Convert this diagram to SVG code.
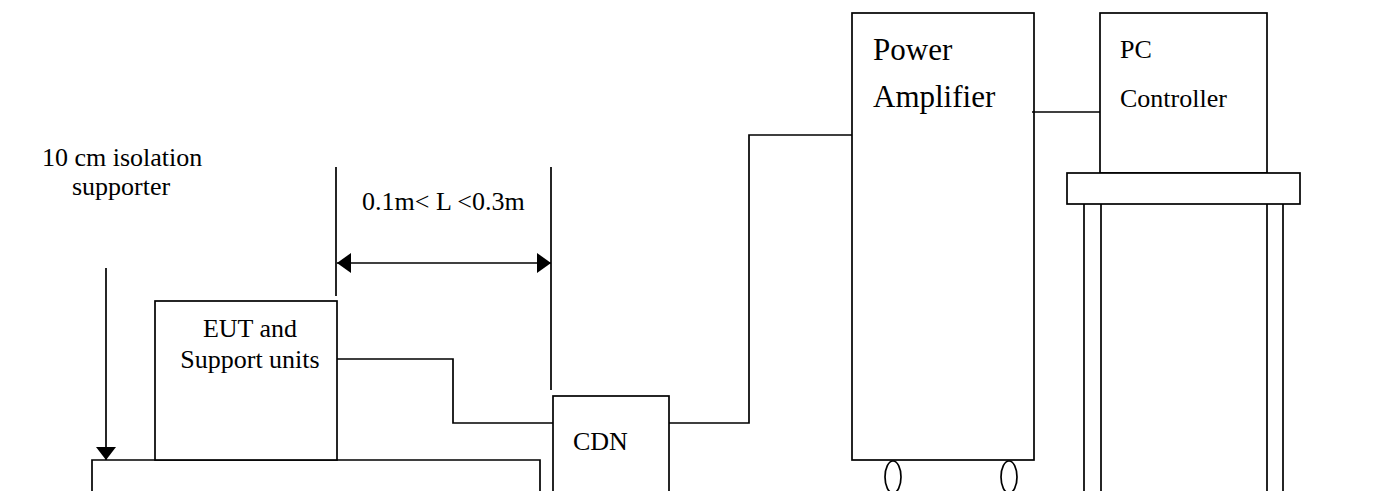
<svg xmlns="http://www.w3.org/2000/svg" width="1376" height="491" viewBox="0 0 1376 491">
<style>
.s{fill:none;stroke:#000;stroke-width:1.7}
.b{fill:#fff;stroke:#000;stroke-width:1.7}
.t{font-family:"Liberation Serif","Times New Roman",serif;font-size:26px;fill:#000}
.tl{font-family:"Liberation Serif","Times New Roman",serif;font-size:31px;fill:#000}
</style>
<defs>
<marker id="ah" viewBox="0 0 14 20" refX="14" refY="10" markerWidth="14" markerHeight="20" markerUnits="userSpaceOnUse" orient="auto-start-reverse">
<path d="M0,0 L14,10 L0,20 Z" fill="#000"/>
</marker>
<marker id="ahd" viewBox="0 0 13 20" refX="13" refY="10" markerWidth="13" markerHeight="20" markerUnits="userSpaceOnUse" orient="auto">
<path d="M0,0 L13,10 L0,20 Z" fill="#000"/>
</marker>
</defs>
<rect width="1376" height="491" fill="#fff"/>

<g id="table">
<path class="s" d="M92,491 V460 H540 V491"/>
</g>

<g id="isolation-label">
<text class="t" x="42" y="166">10 cm isolation</text>
<text class="t" x="72" y="195">supporter</text>
</g>

<g id="eut">
<rect class="b" x="155" y="301" width="182" height="159"/>
<text class="t" x="250" y="337" text-anchor="middle">EUT and</text>
<text class="t" x="250" y="368" text-anchor="middle">Support units</text>
</g>

<g id="dimension">
<text class="t" x="362" y="210">0.1m&lt; L &lt;0.3m</text>
</g>

<g id="cdn">
<rect class="b" x="553" y="396" width="116" height="110"/>
<text class="t" x="573" y="450">CDN</text>
</g>

<g id="power-amplifier">
<rect class="b" x="852" y="13" width="182" height="447"/>
<text class="tl" x="873" y="60">Power</text>
<text class="tl" x="873" y="107">Amplifier</text>
<ellipse class="s" cx="893" cy="477" rx="8" ry="16"/>
<ellipse class="s" cx="1009" cy="477" rx="8" ry="16"/>
</g>

<g id="pc-controller">
<rect class="b" x="1100" y="13" width="167" height="160"/>
<text class="t" x="1120" y="58">PC</text>
<text class="t" x="1120" y="107">Controller</text>
</g>

<g id="shelf">
<rect class="b" x="1067" y="173" width="233" height="31"/>
<path class="s" d="M1084,204 V491 M1101,204 V491 M1267,204 V491 M1283,204 V491"/>
</g>

<g id="connectors">
<path class="s" d="M106,268 V460" marker-end="url(#ahd)"/>
<path class="s" d="M336,167 V296 M551,167 V390"/>
<path class="s" d="M337,263 H551" marker-start="url(#ah)" marker-end="url(#ah)"/>
<path class="s" d="M337,359 H453 V423 H553"/>
<path class="s" d="M669,423 H749 V135 H852"/>
<path class="s" d="M1032,112 H1100"/>
</g>
</svg>
